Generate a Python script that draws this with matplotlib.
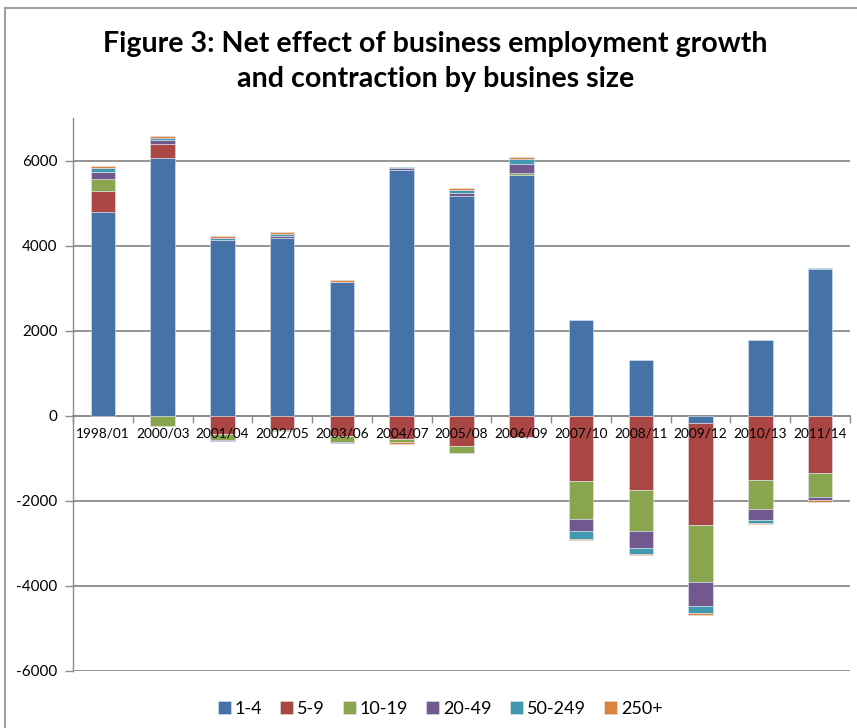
import matplotlib.pyplot as plt
import numpy as np
from matplotlib.patches import Rectangle

# Net employment change by business size band, per period
periods = ['1998/01', '2000/03', '2001/04', '2002/05', '2003/06', '2004/07', '2005/08',
           '2006/09', '2007/10', '2008/11', '2009/12', '2010/13', '2011/14']
size_bands = ['1-4', '5-9', '10-19', '20-49', '50-249', '250+']

size_1_4 = [4800, 6050, 4130, 4170, 3150, 5780, 5160, 5670, 2260, 1320, -170, 1770, 3450]
size_5_9 = [490, 330, -440, -340, -480, -540, -720, -500, -1540, -1750, -2400, -1510, -1350]
size_10_19 = [265, -230, -140, -10, -140, -80, -150, 40, -880, -950, -1340, -670, -560]
size_20_49 = [165, 110, -20, 50, -30, 40, 70, 215, -300, -420, -565, -275, -80]
size_50_249 = [115, 50, 60, 55, 0, 20, 70, 120, -170, -120, -165, -55, 20]
size_250 = [40, 40, 40, 50, 50, -40, 45, 40, -30, -35, -40, -35, -30]

series = [size_1_4, size_5_9, size_10_19, size_20_49, size_50_249, size_250]
colors = ['#4572A7', '#AA4643', '#89A54E', '#71588F', '#4198AF', '#DB843D']

plt.rcParams['font.family'] = ['Lato', 'DejaVu Sans']
plt.rcParams['axes.unicode_minus'] = False

fig = plt.figure(figsize=(8.57, 7.28), dpi=100)
ax = fig.add_axes([73 / 857, 1 - 671 / 728, 777 / 857, 553 / 728])

x = np.arange(len(periods))
pos_base = np.zeros(len(periods))
neg_base = np.zeros(len(periods))
for name, vals, c in zip(size_bands, series, colors):
    v = np.array(vals, dtype=float)
    bottom = np.where(v >= 0, pos_base, neg_base)
    ax.bar(x, v, 0.41, bottom=bottom, color=c, label=name,
           edgecolor='#dfe6f0', linewidth=0.4, zorder=3)
    pos_base += np.where(v >= 0, v, 0)
    neg_base += np.where(v < 0, v, 0)

grid_col = '#8c8c8c'
ax.set_xlim(-0.5, len(periods) - 0.5)
ax.set_ylim(-6000, 7000)
ax.set_yticks(range(-6000, 6001, 2000))
ax.yaxis.grid(True, color=grid_col, linewidth=1.3, zorder=0)
ax.tick_params(axis='y', length=6, width=1.0, color=grid_col, labelsize=11, pad=5)

# category axis sits on the zero line, ticks between the categories
ax.spines['bottom'].set_position(('data', 0))
ax.spines['bottom'].set_color(grid_col)
ax.spines['bottom'].set_linewidth(1.3)
ax.spines['left'].set_color(grid_col)
ax.spines['left'].set_linewidth(1.0)
ax.spines['top'].set_visible(False)
ax.spines['right'].set_visible(False)
ax.set_xticks(np.arange(-0.5, len(periods), 1.0))
ax.set_xticklabels([])
ax.tick_params(axis='x', which='major', length=5, width=1.0, color=grid_col, direction='out')

# period labels drawn over the bars, just under the zero line
for i, p in enumerate(periods):
    ax.annotate(p, xy=(i, 0), xytext=(0, -8.5), textcoords='offset points',
                ha='center', va='top', fontsize=9.8, zorder=6, annotation_clip=False)

fig.text(0.508, 0.94, 'Figure 3: Net effect of business employment growth',
         ha='center', va='center', fontsize=20.6, fontweight='bold')
fig.text(0.508, 0.892, 'and contraction by busines size',
         ha='center', va='center', fontsize=20.6, fontweight='bold')

fig.legend(loc='center', bbox_to_anchor=(440 / 857, 1 - 709 / 728), ncol=6,
           frameon=False, fontsize=13, handlelength=0.72, handleheight=0.72,
           handletextpad=0.22, columnspacing=1.0)

fig.patches.append(Rectangle((5 / 857, -0.05), 1.2, 1 - 8 / 728 + 0.05,
                             transform=fig.transFigure, fill=False,
                             edgecolor='#a0a0a0', linewidth=1.5))

fig.savefig('out.png', dpi=100)
